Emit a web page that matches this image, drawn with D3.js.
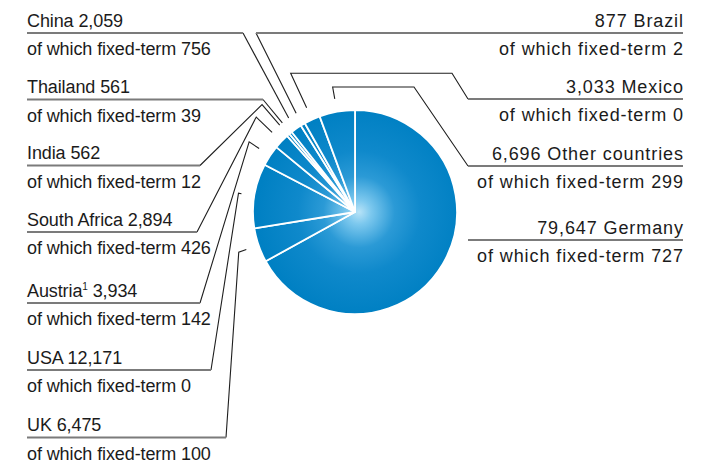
<!DOCTYPE html>
<html>
<head>
<meta charset="utf-8">
<script src="https://cdn.jsdelivr.net/npm/d3@7"></script>
<style>
  html, body { margin: 0; padding: 0; background: #fff; }
  svg { display: block; }
  .lbl { font-family: "Liberation Sans", Arial, sans-serif; font-size: 18px; fill: #1b1b1b; }
</style>
</head>
<body>
<svg id="chart" width="704" height="462"></svg>
<script>
// Employees by country (pie order, clockwise from 12 o'clock)
const countries = ["Germany", "UK", "USA", "Austria", "South Africa", "India", "Thailand", "China", "Brazil", "Mexico", "Other countries"];
const employees = [79647, 6475, 12171, 3934, 2894, 562, 561, 2059, 877, 3033, 6696];
const fixedTerm = [727, 100, 0, 142, 426, 12, 39, 756, 2, 0, 299];
const footnotes = ["", "", "", "1", "", "", "", "", "", "", ""];

// Label placement: side, y of the rule under the first line, where the rule meets the leader,
// optional radius of the leader's elbow, and optional knee for right-hand labels.
const labelLayout = {
  "China":           { side: "left",  ruleY: 33,    ruleEnd: 243 },
  "Thailand":        { side: "left",  ruleY: 99.5,  ruleEnd: 263 },
  "India":           { side: "left",  ruleY: 165.5, ruleEnd: 200, elbowR: 142 },
  "South Africa":    { side: "left",  ruleY: 232,   ruleEnd: 197, elbowR: 137 },
  "Austria":         { side: "left",  ruleY: 303,   ruleEnd: 200, elbowR: 127 },
  "USA":             { side: "left",  ruleY: 370,   ruleEnd: 211, elbowR: 118 },
  "UK":              { side: "left",  ruleY: 437.5, ruleEnd: 226, elbowR: 123 },
  "Brazil":          { side: "right", ruleY: 33,    ruleEnd: 256 },
  "Mexico":          { side: "right", ruleY: 99,    ruleEnd: 468, elbowR: 153, kneeX: 452 },
  "Other countries": { side: "right", ruleY: 166,   ruleEnd: 468, elbowR: 127, kneeX: 414 },
  "Germany":         { side: "right", ruleY: 240,   ruleEnd: 468, noLeader: true }
};

const W = 704, H = 462;
const cx = 355, cy = 212, R = 102;
const leftX = 27, rightX = 683;
const fmt = d3.format(",");

const svg = d3.select("#chart");

// radial shading of the pie, light at the hub
const defs = svg.append("defs");
const grad = defs.append("radialGradient")
  .attr("id", "pieFill")
  .attr("gradientUnits", "userSpaceOnUse")
  .attr("cx", 4).attr("cy", 0).attr("fx", 4).attr("fy", 0).attr("r", R);
[[0, "#b8e3f7"], [0.12, "#7cc8ee"], [0.35, "#2b9ad6"], [0.6, "#0f89cb"], [1, "#0080c3"]]
  .forEach(([o, c]) => grad.append("stop").attr("offset", o).attr("stop-color", c));

const records = countries.map((c, i) => ({ country: c, value: employees[i], fixed: fixedTerm[i], note: footnotes[i] }));

const pie = d3.pie().sort(null).value(d => d.value).startAngle(0).endAngle(2 * Math.PI);
const arcs = pie(records);

const arc = d3.arc().innerRadius(0).outerRadius(R);
const g = svg.append("g").attr("transform", `translate(${cx},${cy})`);

g.selectAll("path.slice")
  .data(arcs)
  .join("path")
  .attr("class", "slice")
  .attr("d", arc)
  .attr("fill", "url(#pieFill)")
  .attr("stroke", "#fff")
  .attr("stroke-width", 1.8)
  .attr("stroke-linejoin", "round");

// Point at radius r along a slice's mid angle, in page coordinates
function polar(a, r) {
  const m = (a.startAngle + a.endAngle) / 2;
  return [cx + r * Math.sin(m), cy - r * Math.cos(m)];
}

const lineGen = d3.line();
const leaders = svg.append("g");
const rules = svg.append("g");
const texts = svg.append("g");

arcs.forEach(a => {
  const d = a.data;
  const L = labelLayout[d.country];
  const left = L.side === "left";

  // leader line from slice to the label rule
  if (!L.noLeader) {
    const pts = [polar(a, 115)];
    if (L.elbowR) pts.push(polar(a, L.elbowR));
    if (L.kneeX) pts.push([L.kneeX, pts[pts.length - 1][1]]);
    pts.push([L.ruleEnd, L.ruleY]);
    leaders.append("path")
      .attr("d", lineGen(pts))
      .attr("fill", "none")
      .attr("stroke", "#1f1f1f")
      .attr("stroke-width", 1.1)
      .attr("stroke-linejoin", "miter");
  }

  // rule under the first line
  rules.append("line")
    .attr("x1", left ? leftX : L.ruleEnd)
    .attr("x2", left ? L.ruleEnd : rightX)
    .attr("y1", L.ruleY).attr("y2", L.ruleY)
    .attr("stroke", "#7b7b7b")
    .attr("stroke-width", 2);

  const ls = left ? -0.1 : 0.9;
  const tx = left ? leftX : rightX + ls;
  const anchor = left ? "start" : "end";

  const t1 = texts.append("text")
    .attr("class", "lbl")
    .attr("x", tx).attr("y", L.ruleY - 6.5)
    .attr("text-anchor", anchor)
    .style("letter-spacing", ls + "px");
  if (left) {
    t1.append("tspan").text(d.country);
    if (d.note) {
      t1.append("tspan").attr("font-size", "10px").attr("dy", -7).text(d.note);
      t1.append("tspan").attr("dy", 7).text(" " + fmt(d.value));
    } else {
      t1.append("tspan").text(" " + fmt(d.value));
    }
  } else {
    t1.text(fmt(d.value) + " " + d.country);
  }

  texts.append("text")
    .attr("class", "lbl")
    .attr("x", tx).attr("y", L.ruleY + 22)
    .attr("text-anchor", anchor)
    .style("letter-spacing", ls + "px")
    .text("of which fixed-term " + fmt(d.fixed));
});
</script>
</body>
</html>
